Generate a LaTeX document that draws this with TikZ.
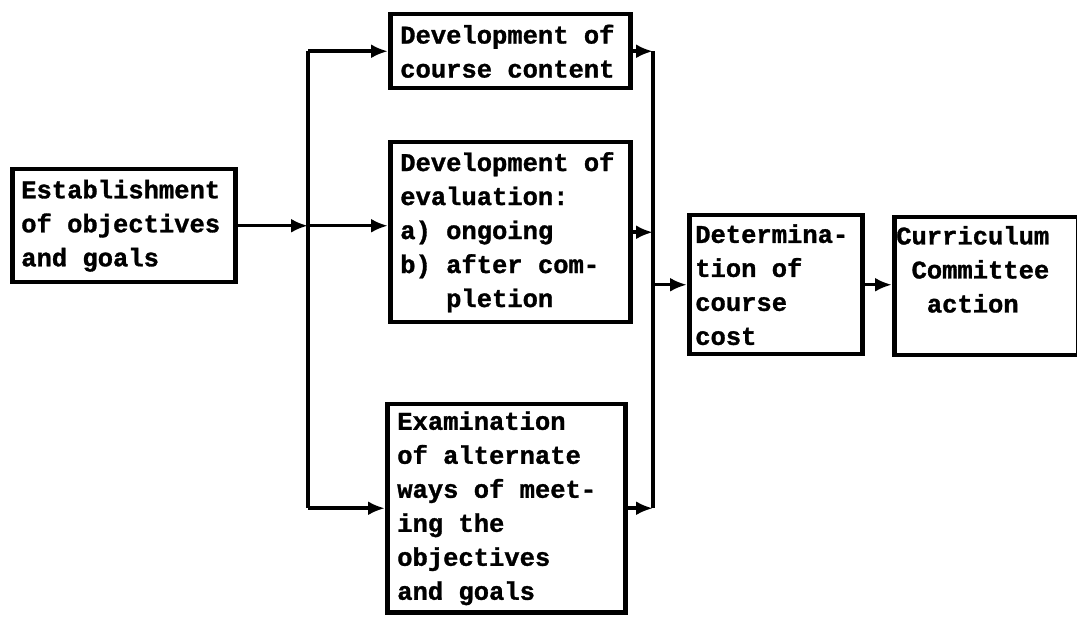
\documentclass[tikz,border=0pt]{standalone}
\usepackage{fontspec}
\newfontfamily\twfont{Liberation Mono}[BoldFeatures={FakeBold=1.2}]
\usetikzlibrary{arrows.meta}
\newcommand\twsetup{\twfont\bfseries\fontsize{25.5}{34}\selectfont}
\newcommand\twspacing{\spaceskip=0.6em\relax\xspaceskip=0.6em\relax
  \hyphenpenalty=10000\relax\exhyphenpenalty=10000\relax}
\begin{document}
\begin{tikzpicture}[x=1pt,y=-1pt,
  box/.style={draw, line width=4.5pt, anchor=north west, align=left,
    inner xsep=12pt, inner ysep=0pt, font=\twsetup,
    execute at begin node=\twspacing},
  wire/.style={line width=3.5pt},
  conn/.style={wire, -{Latex[length=17pt,width=14pt]}}]
\useasboundingbox (0,0) rectangle (1077,617);

% process boxes
\node[box, minimum width=223pt, minimum height=113pt, text width=205pt, inner xsep=9pt]
  (a) at (10,167) {Establishment\\of objectives\\and goals};
\node[box, minimum width=240pt, minimum height=74pt, text width=220pt, inner xsep=10pt]
  (b1) at (388,12) {Development of\\course content};
\node[box, minimum width=240pt, minimum height=180pt, text width=220pt, inner xsep=10pt]
  (b2) at (388,140) {Development of\\evaluation:\\a) ongoing\\b) after com-\\\hspace*{1.8em}pletion};
\node[box, minimum width=238pt, minimum height=208pt, text width=218pt, inner xsep=10pt]
  (b3) at (385,402) {Examination\\of alternate\\ways of meet-\\ing the\\objectives\\and goals};
\node[box, minimum width=173pt, minimum height=139pt, text width=161pt, inner xsep=6pt]
  (c) at (687,213) {Determina-\\tion of\\course\\cost};
\node[box, minimum width=184pt, minimum height=138pt, text width=180pt, inner xsep=2pt]
  (d) at (892,215) {Curriculum\\\hspace*{0.6em}Committee\\\hspace*{1.2em}action\\\mbox{}};

% distribution buses
\coordinate (lbus) at (308,0);
\coordinate (rbus) at (653,0);

% input side
\draw[conn] (a.east) -- (a.east -| lbus);
\draw[conn] (a.east -| lbus) -- (b2.west |- a.east);
\draw[wire] (b1.west -| lbus) -- (b3.west -| lbus);
\draw[conn] (b1.west -| lbus) -- (b1.west);
\draw[conn] (b3.west -| lbus) -- (b3.west);

% output side
\draw[conn] (b1.east) -- (b1.east -| rbus);
\draw[conn] (b2.east) -- (b2.east -| rbus);
\draw[conn] (b3.east) -- (b3.east -| rbus);
\draw[wire] (b1.east -| rbus) -- (b3.east -| rbus);
\draw[conn] (c.west -| rbus) -- (c.west);
\draw[conn] (c.east) -- (d.west |- c.east);
\end{tikzpicture}
\end{document}
